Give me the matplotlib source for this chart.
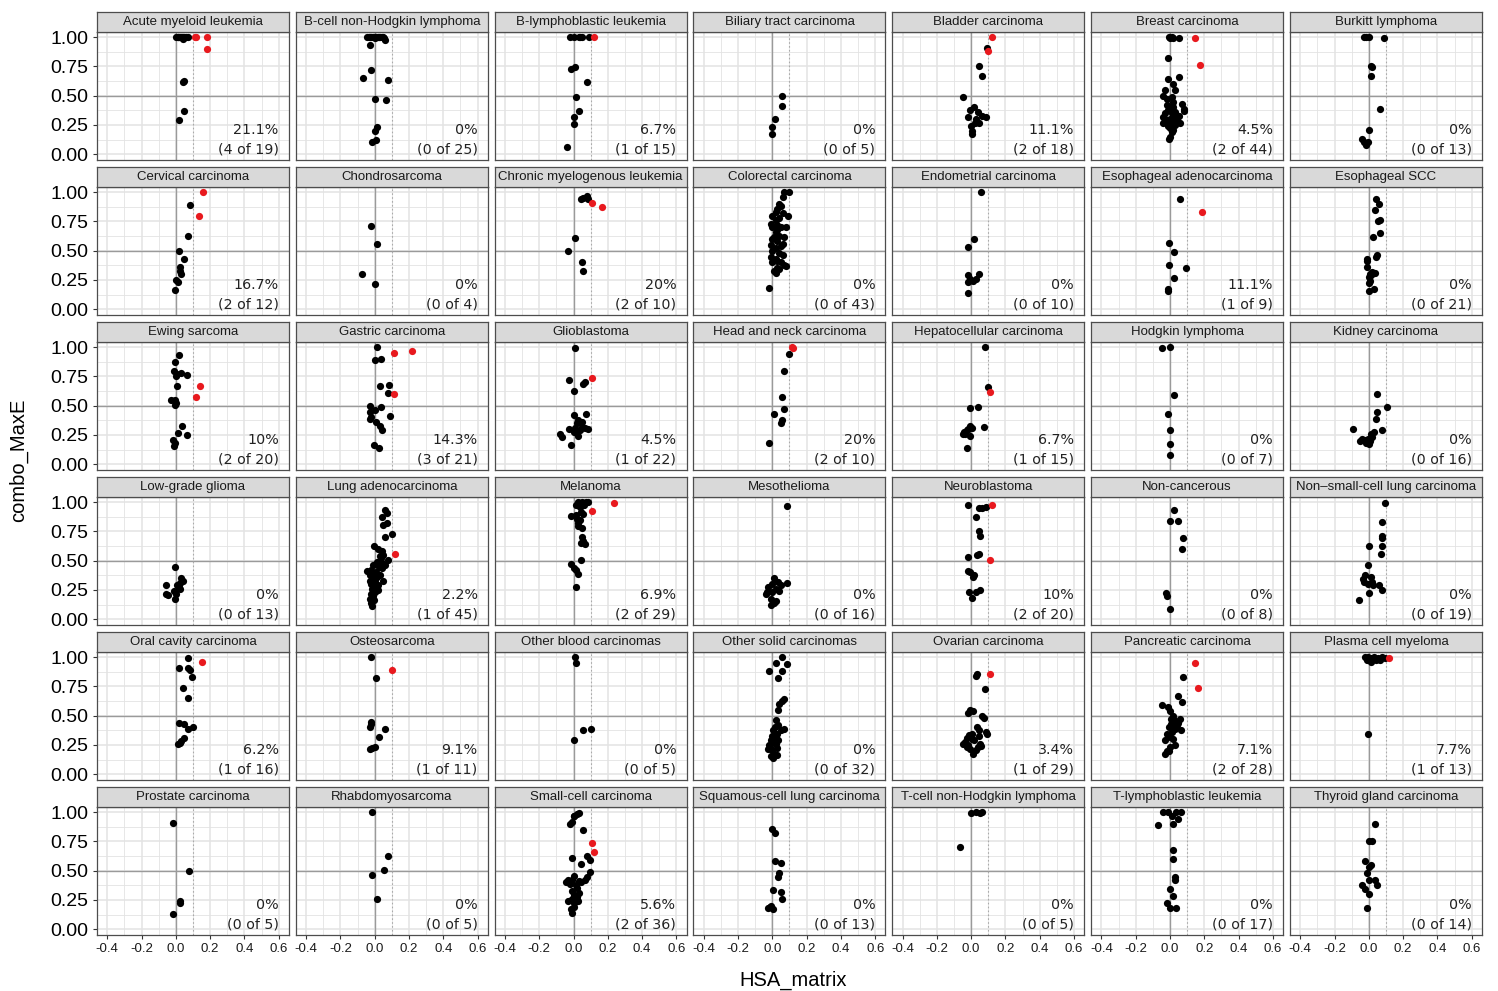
import matplotlib
matplotlib.use("Agg")
import matplotlib.pyplot as plt
from matplotlib.patches import Rectangle

# ---------------- data ----------------
facet_names = ["Acute myeloid leukemia", "B-cell non-Hodgkin lymphoma", "B-lymphoblastic leukemia",
               "Biliary tract carcinoma", "Bladder carcinoma", "Breast carcinoma", "Burkitt lymphoma",
               "Cervical carcinoma", "Chondrosarcoma", "Chronic myelogenous leukemia", "Colorectal carcinoma",
               "Endometrial carcinoma", "Esophageal adenocarcinoma", "Esophageal SCC",
               "Ewing sarcoma", "Gastric carcinoma", "Glioblastoma", "Head and neck carcinoma",
               "Hepatocellular carcinoma", "Hodgkin lymphoma", "Kidney carcinoma",
               "Low-grade glioma", "Lung adenocarcinoma", "Melanoma", "Mesothelioma", "Neuroblastoma",
               "Non-cancerous", "Non\u2013small-cell lung carcinoma",
               "Oral cavity carcinoma", "Osteosarcoma", "Other blood carcinomas", "Other solid carcinomas",
               "Ovarian carcinoma", "Pancreatic carcinoma", "Plasma cell myeloma",
               "Prostate carcinoma", "Rhabdomyosarcoma", "Small-cell carcinoma", "Squamous-cell lung carcinoma",
               "T-cell non-Hodgkin lymphoma", "T-lymphoblastic leukemia", "Thyroid gland carcinoma"]

hit_counts = [4, 0, 1, 0, 2, 2, 0,
              2, 0, 2, 0, 0, 1, 0,
              2, 3, 1, 2, 1, 0, 0,
              0, 1, 2, 0, 2, 0, 0,
              1, 1, 0, 0, 1, 2, 1,
              0, 0, 2, 0, 0, 0, 0]
total_counts = [19, 25, 15, 5, 18, 44, 13,
                12, 4, 10, 43, 10, 9, 21,
                20, 21, 22, 10, 15, 7, 16,
                13, 45, 29, 16, 20, 8, 19,
                16, 11, 5, 32, 29, 28, 13,
                5, 5, 36, 13, 5, 17, 14]

x_ticks = [-0.4, -0.2, 0.0, 0.2, 0.4, 0.6]
x_tick_labels = ["-0.4", "-0.2", "0.0", "0.2", "0.4", "0.6"]
y_ticks = [0.0, 0.25, 0.5, 0.75, 1.0]
y_tick_labels = ["0.00", "0.25", "0.50", "0.75", "1.00"]

# (HSA_matrix, combo_MaxE) per facet; black = not hit, red = hit
aml_k = [[0.0, 1.0], [0.01, 1.0], [0.015, 1.0], [0.02, 1.0], [0.025, 1.0], [0.03, 1.0], [0.035, 1.0],
         [0.04, 1.0], [0.05, 1.0], [0.06, 1.0], [0.07, 1.0], [0.04, 0.985],
         [0.04, 0.615], [0.05, 0.625], [0.05, 0.37], [0.02, 0.29]]
aml_r = [[0.11, 1.0], [0.12, 1.0], [0.18, 1.0], [0.18, 0.90]]

bcell_k = [[-0.045, 1.0], [-0.035, 1.0], [-0.03, 1.0], [-0.02, 1.0], [-0.01, 1.0], [0.0, 1.0], [0.01, 1.0],
           [0.02, 1.0], [0.025, 1.0], [0.03, 1.0], [0.04, 1.0], [0.05, 1.0], [0.055, 0.99], [0.06, 0.98],
           [0.0, 0.995], [-0.03, 0.935], [-0.02, 0.72], [-0.07, 0.655], [0.08, 0.635], [0.0, 0.47],
           [0.067, 0.465], [0.015, 0.23], [0.0, 0.2], [0.01, 0.125], [-0.015, 0.10]]
bcell_r = []

blymph_k = [[-0.023, 1.0], [0.0, 1.0], [0.03, 1.0], [0.04, 1.0], [0.05, 1.0], [0.09, 1.0],
            [-0.015, 0.73], [0.01, 0.745], [0.077, 0.62], [0.015, 0.49], [0.03, 0.37],
            [0.0, 0.32], [0.0, 0.26], [-0.037, 0.06]]
blymph_r = [[0.12, 1.0]]

biliary_k = [[0.054, 0.5], [0.054, 0.41], [0.014, 0.30], [0.0, 0.235], [0.0, 0.175]]
biliary_r = []

bladder_k = [[0.09, 0.91], [0.044, 0.75], [0.062, 0.67], [-0.049, 0.49], [0.018, 0.405], [-0.004, 0.375],
             [0.04, 0.36], [0.062, 0.33], [0.084, 0.32], [-0.016, 0.318], [0.047, 0.27], [0.0, 0.245],
             [0.024, 0.27], [0.007, 0.2], [0.002, 0.175], [0.03, 0.30]]
bladder_r = [[0.124, 1.0], [0.10, 0.885]]

breast_k = [[-0.004, 1.0], [0.011, 1.0], [0.02, 0.99], [0.05, 0.99], [0.0, 0.995], [-0.01, 0.82],
            [-0.01, 0.64], [0.05, 0.66], [0.02, 0.60], [0.03, 0.55], [-0.03, 0.55], [-0.04, 0.50],
            [0.01, 0.49], [-0.02, 0.47], [0.07, 0.43], [0.08, 0.37], [0.08, 0.39], [0.0, 0.40],
            [0.02, 0.40], [-0.01, 0.38], [0.03, 0.36], [0.01, 0.35], [-0.04, 0.32], [-0.03, 0.30],
            [0.0, 0.30], [0.04, 0.29], [-0.02, 0.28], [0.01, 0.27], [-0.04, 0.27], [0.06, 0.27],
            [0.03, 0.25], [-0.01, 0.24], [0.0, 0.22], [0.02, 0.21], [0.01, 0.19], [0.0, 0.15],
            [-0.005, 0.13], [0.02, 0.45], [-0.02, 0.42], [0.05, 0.33], [-0.03, 0.35], [0.03, 0.31]]
breast_r = [[0.144, 0.995], [0.173, 0.765]]

burkitt_k = [[-0.028, 1.0], [-0.016, 1.0], [0.0, 1.0], [0.088, 0.995], [0.012, 0.75], [0.019, 0.745],
             [0.012, 0.67], [0.065, 0.39], [0.0, 0.21], [-0.04, 0.13], [-0.028, 0.105], [-0.016, 0.08],
             [-0.005, 0.10]]
burkitt_r = []

cervical_k = [[0.085, 0.89], [0.073, 0.63], [0.018, 0.5], [0.048, 0.425], [0.024, 0.36], [0.03, 0.30],
              [0.024, 0.33], [0.0, 0.25], [0.015, 0.23], [-0.006, 0.165]]
cervical_r = [[0.16, 1.0], [0.136, 0.795]]

chondro_k = [[-0.02, 0.715], [0.015, 0.56], [-0.076, 0.30], [0.003, 0.215]]
chondro_r = []

cml_k = [[0.057, 0.955], [0.077, 0.965], [0.043, 0.94], [0.086, 0.94], [0.009, 0.605], [-0.031, 0.494],
         [0.051, 0.405], [0.057, 0.33]]
cml_r = [[0.11, 0.91], [0.166, 0.87]]

colorectal_k = [[0.07, 1.0], [0.10, 1.0], [0.06, 0.96], [0.04, 0.90], [0.03, 0.86], [0.02, 0.83],
                [0.06, 0.82], [0.09, 0.80], [0.00, 0.80], [0.04, 0.78], [0.02, 0.76], [-0.01, 0.73],
                [0.03, 0.72], [0.05, 0.70], [0.00, 0.70], [0.02, 0.66], [0.04, 0.63], [0.07, 0.62],
                [0.00, 0.60], [0.03, 0.58], [-0.01, 0.55], [0.05, 0.54], [0.02, 0.52], [0.00, 0.50],
                [0.04, 0.48], [0.06, 0.46], [-0.01, 0.45], [0.02, 0.43], [0.03, 0.41], [0.05, 0.40],
                [0.00, 0.40], [0.08, 0.37], [0.03, 0.35], [0.04, 0.34], [0.01, 0.33], [0.02, 0.31],
                [0.07, 0.38], [0.06, 0.56], [0.01, 0.62], [0.08, 0.70], [-0.02, 0.18], [0.03, 0.68],
                [0.05, 0.88]]
colorectal_r = []

endometrial_k = [[0.058, 1.0], [0.018, 0.6], [-0.02, 0.53], [-0.016, 0.29], [-0.004, 0.26], [-0.016, 0.23],
                 [0.011, 0.245], [0.029, 0.26], [0.044, 0.30], [-0.02, 0.135]]
endometrial_r = []

esoadeno_k = [[0.056, 0.94], [-0.004, 0.57], [0.024, 0.485], [-0.004, 0.38], [0.091, 0.35], [0.024, 0.265],
              [-0.011, 0.175], [-0.009, 0.155]]
esoadeno_r = [[0.184, 0.83]]

esoscc_k = [[0.042, 0.94], [0.06, 0.90], [0.035, 0.85], [0.065, 0.76], [0.053, 0.755], [0.065, 0.655],
            [0.026, 0.62], [0.049, 0.465], [0.042, 0.45], [-0.009, 0.43], [-0.009, 0.41], [-0.012, 0.36],
            [0.019, 0.32], [0.035, 0.31], [0.012, 0.29], [0.002, 0.275], [0.007, 0.245], [0.002, 0.225],
            [0.03, 0.175], [0.0, 0.155], [0.005, 0.30]]
esoscc_r = []

ewing_k = [[0.018, 0.93], [-0.006, 0.875], [-0.012, 0.80], [0.009, 0.775], [0.03, 0.78], [0.064, 0.76],
           [0.0, 0.75], [0.009, 0.67], [-0.03, 0.547], [-0.006, 0.553], [0.0, 0.52], [-0.006, 0.51],
           [0.033, 0.33], [0.012, 0.27], [0.064, 0.25], [-0.015, 0.21], [-0.012, 0.155], [-0.006, 0.185]]
ewing_r = [[0.14, 0.67], [0.115, 0.575]]

gastric_k = [[0.014, 1.0], [0.0, 0.89], [0.037, 0.90], [0.029, 0.67], [0.086, 0.68], [0.077, 0.61],
             [-0.029, 0.494], [0.034, 0.485], [-0.029, 0.45], [-0.02, 0.405], [-0.029, 0.39], [0.091, 0.415],
             [0.009, 0.36], [0.029, 0.33], [0.043, 0.295], [-0.006, 0.165], [0.023, 0.14], [0.0, 0.46]]
gastric_r = [[0.114, 0.955], [0.22, 0.965], [0.111, 0.60]]

glio_k = [[0.009, 0.99], [-0.029, 0.72], [0.066, 0.70], [0.057, 0.685], [0.0, 0.63], [0.071, 0.43],
          [0.0, 0.42], [0.029, 0.38], [0.049, 0.36], [0.02, 0.35], [0.086, 0.30], [0.066, 0.31],
          [-0.029, 0.30], [0.037, 0.29], [0.0, 0.275], [-0.077, 0.26], [-0.066, 0.235], [0.029, 0.245],
          [-0.014, 0.165], [0.049, 0.32], [0.01, 0.31]]
glio_r = [[0.109, 0.735]]

headneck_k = [[0.10, 0.94], [0.069, 0.80], [0.054, 0.575], [0.069, 0.47], [0.011, 0.43], [0.057, 0.38],
              [0.051, 0.35], [-0.017, 0.185]]
headneck_r = [[0.114, 1.0], [0.12, 0.99]]

hepato_k = [[0.078, 1.0], [0.10, 0.66], [-0.009, 0.48], [0.04, 0.485], [-0.004, 0.33], [0.002, 0.31],
            [-0.016, 0.30], [-0.027, 0.29], [-0.044, 0.275], [-0.038, 0.255], [-0.004, 0.245],
            [-0.049, 0.26], [0.073, 0.32], [-0.027, 0.14]]
hepato_r = [[0.107, 0.62]]

hodgkin_k = [[-0.044, 0.995], [0.002, 1.0], [0.022, 0.59], [-0.013, 0.43], [0.002, 0.29], [0.002, 0.175],
             [0.0, 0.08]]
hodgkin_r = []

kidney_k = [[0.049, 0.60], [0.107, 0.49], [0.049, 0.45], [0.042, 0.39], [-0.093, 0.30], [0.077, 0.295],
            [0.03, 0.275], [0.012, 0.26], [-0.04, 0.215], [-0.021, 0.205], [-0.005, 0.215], [0.007, 0.20],
            [-0.051, 0.20], [-0.016, 0.185], [0.002, 0.175], [0.019, 0.23]]
kidney_r = []

lgg_k = [[-0.006, 0.45], [0.03, 0.35], [0.039, 0.325], [0.024, 0.31], [0.009, 0.29], [0.018, 0.275],
         [-0.06, 0.295], [-0.012, 0.245], [-0.045, 0.205], [-0.058, 0.215], [0.0, 0.215], [-0.006, 0.175],
         [0.024, 0.26]]
lgg_r = []

luad_k = [[0.06, 0.935], [0.07, 0.905], [0.04, 0.875], [0.07, 0.82], [0.05, 0.805], [0.10, 0.73],
          [0.06, 0.70], [-0.005, 0.63], [0.04, 0.58], [0.05, 0.55], [0.03, 0.54], [0.08, 0.51],
          [0.015, 0.49], [0.045, 0.48], [-0.01, 0.465], [-0.02, 0.42], [-0.045, 0.41], [0.01, 0.405],
          [0.03, 0.38], [-0.01, 0.38], [-0.03, 0.33], [0.05, 0.325], [0.0, 0.32], [-0.02, 0.30],
          [0.02, 0.29], [-0.015, 0.26], [0.0, 0.235], [-0.02, 0.215], [-0.01, 0.20], [-0.03, 0.17],
          [-0.02, 0.14], [-0.015, 0.11], [0.025, 0.45], [0.06, 0.465], [0.015, 0.36], [-0.03, 0.38],
          [0.04, 0.435], [-0.015, 0.185], [0.005, 0.275], [0.02, 0.25], [-0.005, 0.16], [0.02, 0.60],
          [0.035, 0.52], [0.0, 0.34]]
luad_r = [[0.12, 0.555]]

melanoma_k = [[0.029, 1.0], [0.049, 1.0], [0.071, 1.0], [0.086, 1.0], [0.057, 0.98], [0.014, 0.98],
              [0.043, 0.92], [0.057, 0.90], [-0.014, 0.885], [0.014, 0.89], [0.037, 0.85], [0.029, 0.82],
              [0.029, 0.80], [0.049, 0.78], [0.049, 0.70], [0.057, 0.67], [0.066, 0.64], [0.043, 0.65],
              [0.043, 0.51], [-0.014, 0.47], [0.0, 0.44], [0.014, 0.42], [0.029, 0.385], [0.014, 0.275],
              [0.06, 0.98], [0.04, 0.96], [0.02, 0.86]]
melanoma_r = [[0.234, 0.99], [0.106, 0.925]]

meso_k = [[0.086, 0.97], [0.011, 0.35], [0.086, 0.31], [0.034, 0.32], [-0.003, 0.30], [0.049, 0.295],
          [-0.023, 0.275], [0.02, 0.26], [-0.031, 0.235], [0.0, 0.23], [0.04, 0.245], [-0.037, 0.215],
          [-0.009, 0.175], [0.02, 0.155], [-0.009, 0.125], [0.011, 0.14]]
meso_r = []

neuro_k = [[-0.02, 0.98], [0.044, 0.95], [0.062, 0.95], [0.084, 0.96], [0.029, 0.876], [0.047, 0.75],
           [0.051, 0.715], [0.047, 0.56], [0.033, 0.553], [-0.016, 0.53], [-0.02, 0.41], [-0.004, 0.40],
           [0.018, 0.38], [0.011, 0.36], [-0.011, 0.23], [0.029, 0.235], [0.051, 0.25], [0.002, 0.185]]
neuro_r = [[0.124, 0.98], [0.107, 0.51]]

noncanc_k = [[0.024, 0.93], [0.002, 0.84], [0.047, 0.84], [0.073, 0.69], [0.069, 0.60], [-0.022, 0.225],
             [-0.02, 0.20], [0.0, 0.09]]
noncanc_r = []

nsclc_k = [[0.095, 0.99], [0.077, 0.83], [0.077, 0.715], [0.077, 0.69], [0.077, 0.625], [0.002, 0.625],
           [0.07, 0.56], [-0.005, 0.46], [-0.021, 0.375], [-0.035, 0.34], [0.012, 0.36], [0.019, 0.32],
           [-0.005, 0.30], [0.026, 0.29], [0.058, 0.295], [0.077, 0.25], [0.002, 0.225], [-0.028, 0.32],
           [-0.058, 0.165]]
nsclc_r = []

oral_k = [[0.07, 0.99], [0.018, 0.905], [0.07, 0.905], [0.085, 0.89], [0.094, 0.83], [0.039, 0.735],
          [0.073, 0.65], [0.018, 0.435], [0.048, 0.425], [0.07, 0.39], [0.10, 0.40], [0.048, 0.31],
          [0.03, 0.28], [0.015, 0.26], [0.024, 0.265]]
oral_r = [[0.15, 0.96]]

osteo_k = [[-0.02, 1.0], [0.009, 0.825], [-0.02, 0.45], [-0.029, 0.405], [-0.02, 0.43], [0.063, 0.39],
           [0.023, 0.32], [-0.029, 0.215], [-0.014, 0.225], [0.0, 0.235]]
osteo_r = [[0.10, 0.89]]

otherblood_k = [[0.009, 1.0], [0.014, 0.95], [0.057, 0.38], [0.10, 0.39], [0.0, 0.29]]
otherblood_r = []

othersolid_k = [[0.054, 1.0], [0.02, 0.95], [0.086, 0.94], [-0.017, 0.885], [0.057, 0.88], [0.034, 0.825],
                [0.069, 0.64], [0.057, 0.625], [0.034, 0.553], [0.02, 0.465], [0.034, 0.42], [0.069, 0.385],
                [0.049, 0.376], [0.006, 0.376], [0.029, 0.347], [-0.009, 0.294], [0.006, 0.274],
                [0.02, 0.26], [-0.014, 0.23], [0.029, 0.224], [0.0, 0.206], [-0.009, 0.156], [0.011, 0.176],
                [-0.023, 0.215], [0.02, 0.31], [0.034, 0.29], [0.0, 0.33], [0.014, 0.405], [-0.017, 0.25],
                [0.006, 0.14], [0.029, 0.165], [0.04, 0.60]]
othersolid_r = []

ovarian_k = [[0.036, 0.86], [0.029, 0.84], [0.078, 0.73], [-0.004, 0.547], [0.011, 0.54], [-0.016, 0.52],
             [0.062, 0.494], [0.073, 0.48], [0.036, 0.405], [0.044, 0.376], [0.007, 0.347], [0.091, 0.347],
             [0.084, 0.362], [-0.011, 0.332], [-0.027, 0.312], [0.002, 0.303], [-0.038, 0.274],
             [-0.049, 0.26], [-0.016, 0.253], [0.018, 0.288], [0.051, 0.26], [0.04, 0.23], [0.029, 0.206],
             [0.011, 0.176], [0.056, 0.244], [-0.027, 0.235], [-0.004, 0.215], [0.047, 0.324]]
ovarian_r = [[0.107, 0.853]]

pancreatic_k = [[0.078, 0.83], [0.044, 0.67], [0.069, 0.62], [-0.044, 0.59], [-0.011, 0.575], [0.002, 0.54],
                [0.018, 0.50], [0.024, 0.465], [0.056, 0.47], [0.047, 0.435], [0.007, 0.43], [0.062, 0.38],
                [-0.004, 0.405], [0.029, 0.39], [0.011, 0.36], [-0.016, 0.347], [-0.027, 0.29],
                [0.018, 0.303], [0.002, 0.235], [-0.016, 0.20], [-0.027, 0.176], [-0.004, 0.194],
                [0.04, 0.42], [0.007, 0.47], [0.0, 0.32], [0.03, 0.25]]
pancreatic_r = [[0.147, 0.955], [0.162, 0.74]]

plasma_k = [[-0.021, 1.0], [-0.005, 1.0], [0.012, 0.99], [0.03, 1.0], [0.053, 0.995], [0.077, 1.0],
            [0.012, 0.96], [-0.012, 0.98], [0.065, 0.98], [0.095, 0.995], [0.042, 0.98], [-0.005, 0.34]]
plasma_r = [[0.116, 0.995]]

prostate_k = [[-0.014, 0.905], [0.077, 0.50], [0.023, 0.245], [0.023, 0.22], [-0.014, 0.128]]
prostate_r = []

rhabdo_k = [[-0.017, 1.0], [0.077, 0.63], [0.054, 0.51], [-0.017, 0.46], [0.014, 0.26]]
rhabdo_r = []

smallcell_k = [[0.019, 0.985], [0.032, 0.99], [0.005, 0.965], [-0.008, 0.92], [-0.022, 0.90], [0.054, 0.85],
               [-0.008, 0.61], [0.078, 0.625], [0.095, 0.59], [0.041, 0.56], [0.095, 0.49], [0.005, 0.455],
               [-0.008, 0.42], [0.032, 0.415], [0.068, 0.42], [0.078, 0.445], [-0.041, 0.405],
               [-0.022, 0.39], [0.014, 0.375], [-0.008, 0.33], [0.032, 0.31], [0.005, 0.29], [-0.03, 0.24],
               [0.024, 0.24], [0.005, 0.22], [-0.014, 0.17], [-0.008, 0.14], [0.005, 0.19], [-0.035, 0.42],
               [0.046, 0.405], [0.019, 0.275], [-0.008, 0.26], [0.0, 0.97], [0.02, 0.35]]
smallcell_r = [[0.108, 0.74], [0.122, 0.66]]

squamous_k = [[0.0, 0.855], [0.014, 0.825], [0.014, 0.58], [0.049, 0.565], [0.04, 0.48], [0.034, 0.45],
              [0.006, 0.337], [0.049, 0.317], [0.057, 0.258], [-0.009, 0.20], [-0.023, 0.18], [0.006, 0.17],
              [-0.014, 0.19]]
squamous_r = []

tcell_k = [[0.0, 0.995], [0.03, 1.0], [0.05, 0.995], [0.065, 1.0], [-0.065, 0.70]]
tcell_r = []

tlymph_k = [[-0.04, 1.0], [-0.01, 1.0], [0.035, 1.0], [0.065, 1.0], [-0.07, 0.89], [0.02, 0.90],
            [0.045, 0.94], [0.02, 0.68], [0.02, 0.60], [0.03, 0.42], [0.0, 0.34], [-0.02, 0.22],
            [0.0, 0.18], [0.035, 0.18], [0.02, 0.28], [0.01, 0.97], [0.03, 0.45]]
tlymph_r = []

thyroid_k = [[0.035, 0.90], [0.02, 0.75], [0.0, 0.75], [-0.02, 0.58], [0.0, 0.53], [-0.01, 0.48],
             [-0.04, 0.38], [0.0, 0.42], [0.035, 0.42], [0.045, 0.38], [-0.02, 0.34], [0.0, 0.30],
             [-0.01, 0.18], [0.01, 0.55]]
thyroid_r = []

black_points = [aml_k, bcell_k, blymph_k, biliary_k, bladder_k, breast_k, burkitt_k,
                cervical_k, chondro_k, cml_k, colorectal_k, endometrial_k, esoadeno_k, esoscc_k,
                ewing_k, gastric_k, glio_k, headneck_k, hepato_k, hodgkin_k, kidney_k,
                lgg_k, luad_k, melanoma_k, meso_k, neuro_k, noncanc_k, nsclc_k,
                oral_k, osteo_k, otherblood_k, othersolid_k, ovarian_k, pancreatic_k, plasma_k,
                prostate_k, rhabdo_k, smallcell_k, squamous_k, tcell_k, tlymph_k, thyroid_k]
red_points = [aml_r, bcell_r, blymph_r, biliary_r, bladder_r, breast_r, burkitt_r,
              cervical_r, chondro_r, cml_r, colorectal_r, endometrial_r, esoadeno_r, esoscc_r,
              ewing_r, gastric_r, glio_r, headneck_r, hepato_r, hodgkin_r, kidney_r,
              lgg_r, luad_r, melanoma_r, meso_r, neuro_r, noncanc_r, nsclc_r,
              oral_r, osteo_r, otherblood_r, othersolid_r, ovarian_r, pancreatic_r, plasma_r,
              prostate_r, rhabdo_r, smallcell_r, squamous_r, tcell_r, tlymph_r, thyroid_r]

# ---------------- layout ----------------
W, H = 1498, 991
fig = plt.figure(figsize=(W / 100, H / 100), dpi=100)
fig.patch.set_facecolor("white")

SANS = ["Liberation Sans", "DejaVu Sans"]
NCOL = 7
col_left0, col_pitch, panel_w = 97, 198.83, 192
row_top0, row_pitch, strip_h, panel_h = 12, 155, 20, 128

def rect(left, top, w, h):
    return [left / W, 1 - (top + h) / H, w / W, h / H]

def fmt_pct(k, n):
    s = f"{100 * k / n:.1f}"
    if s.endswith(".0"):
        s = s[:-2]
    return s + "%"

XLIM = (-0.46, 0.66)
YLIM = (-0.05, 1.045)
grid_c = "#E3E3E3"
border_c = "#4D4D4D"

for i, name in enumerate(facet_names):
    r, c = divmod(i, NCOL)
    left = col_left0 + c * col_pitch
    stop = row_top0 + r * row_pitch
    ptop = stop + strip_h

    ax = fig.add_axes(rect(left, ptop, panel_w, panel_h))
    ax.set_xlim(*XLIM)
    ax.set_ylim(*YLIM)
    ax.set_facecolor("white")

    # grid
    for gx in [-0.4, -0.3, -0.2, -0.1, 0.0, 0.1, 0.2, 0.3, 0.4, 0.5, 0.6]:
        major = abs(round(gx / 0.2) * 0.2 - gx) < 1e-9
        ax.axvline(gx, color=grid_c, lw=1.1 if major else 0.6, zorder=0)
    for gy in [0.0, 0.125, 0.25, 0.375, 0.5, 0.625, 0.75, 0.875, 1.0]:
        major = abs(round(gy / 0.25) * 0.25 - gy) < 1e-9
        ax.axhline(gy, color=grid_c, lw=1.1 if major else 0.6, zorder=0)

    # reference lines
    ax.axhline(0.5, color="#9A9A9A", lw=1.0, zorder=1)
    ax.axvline(0.0, color="#9A9A9A", lw=1.0, zorder=1)
    ax.axvline(0.1, color="#AAAAAA", lw=0.8, ls=(0, (1.5, 2)), zorder=1)

    kp = black_points[i]
    if kp:
        ax.scatter([p[0] for p in kp], [p[1] for p in kp], s=27, color="black",
                   linewidths=0, zorder=3)
    rp = red_points[i]
    if rp:
        ax.scatter([p[0] for p in rp], [p[1] for p in rp], s=27, color="#E8191E",
                   linewidths=0, zorder=4)

    # annotation
    ax.text(0.6, 0.21, fmt_pct(hit_counts[i], total_counts[i]), ha="right", va="center",
            fontsize=10.3, color="#222222", family="DejaVu Sans", zorder=5)
    ax.text(0.6, 0.04, f"({hit_counts[i]} of {total_counts[i]})", ha="right", va="center",
            fontsize=10.3, color="#222222", family="DejaVu Sans", zorder=5)

    for sp in ax.spines.values():
        sp.set_color(border_c)
        sp.set_linewidth(0.9)

    ax.set_xticks(x_ticks)
    ax.set_yticks(y_ticks)
    ax.tick_params(length=3, width=0.8, color="#333333")
    if r == 5:
        ax.set_xticklabels(x_tick_labels, fontsize=9.5, family=SANS, color="#1A1A1A")
        ax.tick_params(axis="x", pad=3)
    else:
        ax.tick_params(axis="x", length=0, labelbottom=False)
    if c == 0:
        ax.set_yticklabels(y_tick_labels, fontsize=14, family=SANS, color="black")
        ax.tick_params(axis="y", pad=3)
    else:
        ax.tick_params(axis="y", length=0, labelleft=False)

    # strip
    sax = fig.add_axes(rect(left, stop, panel_w, strip_h))
    sax.set_xlim(0, 1)
    sax.set_ylim(0, 1)
    sax.set_xticks([])
    sax.set_yticks([])
    sax.set_facecolor("#D9D9D9")
    for sp in sax.spines.values():
        sp.set_color(border_c)
        sp.set_linewidth(0.9)
    sax.text(0.5, 0.5, name, ha="center", va="center", fontsize=9.5, family=SANS, color="#1A1A1A")

fig.text(793 / W, 1 - 980 / H, "HSA_matrix", ha="center", va="center", fontsize=14.5, family=SANS)
fig.text(19 / W, 1 - 460 / H, "combo_MaxE", ha="center", va="center", rotation=90, fontsize=14.5,
         family=SANS)

fig.savefig("out.png", dpi=100, facecolor="white")
